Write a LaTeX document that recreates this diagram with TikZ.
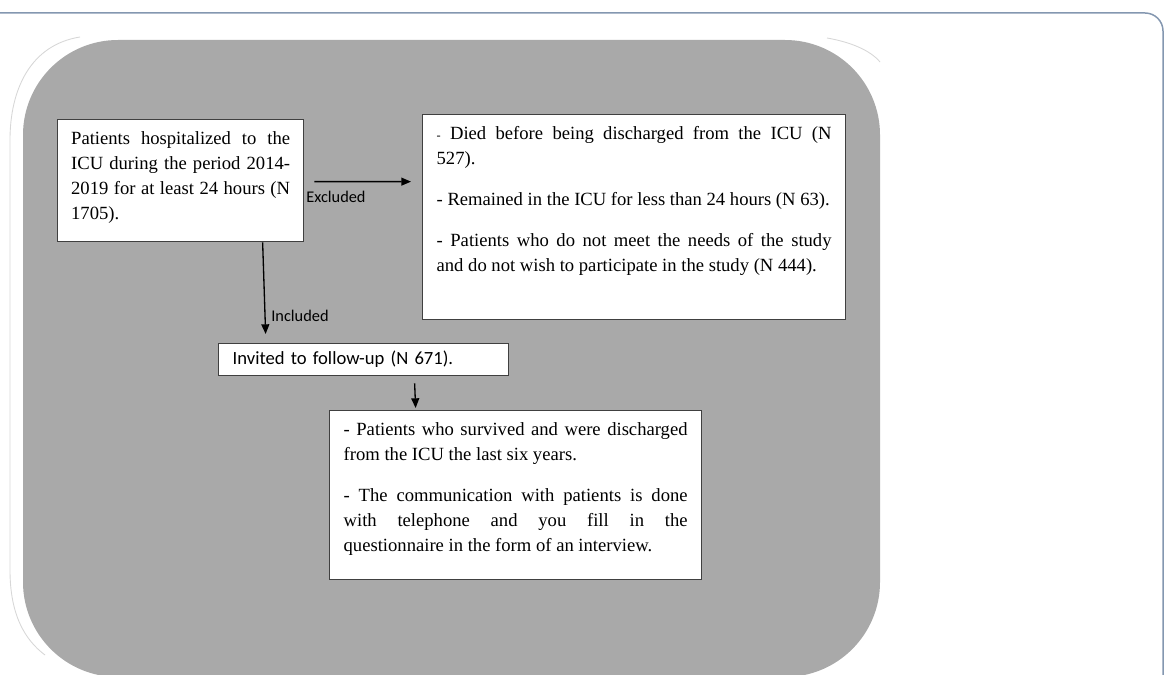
\documentclass[tikz,border=0pt]{standalone}
\usepackage{fontspec}
\setmainfont{Liberation Serif}
\newfontfamily\calfont{Carlito}
\usepackage{xcolor}
\usetikzlibrary{positioning, arrows.meta}

\definecolor{panelgray}{RGB}{169,169,169}
\definecolor{framecol}{RGB}{132,151,176}
\definecolor{boxedge}{RGB}{64,64,64}
\definecolor{faintline}{RGB}{215,215,215}

\newcommand{\boxtext}{\fontsize{10.6}{14.2}\selectfont}
\newcommand{\paragap}{\par\vspace{9pt}}

\tikzset{
  flowbox/.style={draw=boxedge, fill=white, line width=0.75pt, anchor=north west, inner ysep=0.24cm, inner xsep=0.27cm},
  flowlabel/.style={inner sep=0pt, anchor=west, font=\calfont\fontsize{9.3}{11}\selectfont},
  flowarrow/.style={-{Triangle[length=5.5pt,width=4.5pt]}, line width=0.75pt}
}

\begin{document}
\begin{tikzpicture}[x=0.02cm, y=-0.02cm]
    \useasboundingbox (0,0) rectangle (1168,675);
    % page frame
    \draw[framecol, line width=0.85pt, rounded corners=0.36cm] (0,13) -- (1163,13) -- (1163,680);
    % panel
    \draw[faintline, line width=0.5pt] (80,37) .. controls (30,45) and (10,90) .. (10,140) -- (10,570) .. controls (10,615) and (25,640) .. (45,655);
    \draw[faintline, line width=0.5pt] (827,38) .. controls (850,42) and (870,50) .. (880,62);
    \fill[panelgray, rounded corners=1.9cm] (23,40) rectangle (880,677);
    % boxes
    \node[flowbox] (hosp) at (57,119) {\parbox[c][1.96cm][t]{4.38cm}{\boxtext
        Patients hospitalized to the\linebreak
        ICU during the period 2014-\linebreak
        2019 for at least 24 hours (N\linebreak
        1705).}};
    \node[flowbox, inner xsep=0.28cm] (dropout) at (422,114) {\parbox[c][3.62cm][t]{7.9cm}{\boxtext
        {\scriptsize -} Died before being discharged from the ICU (N\linebreak
        527).\paragap
        - Remained in the ICU for less than 24 hours (N 63).\paragap
        - Patients who do not meet the needs of the study\linebreak
        and do not wish to participate in the study (N 444).}};
    \node[flowbox, inner xsep=0.28cm, inner ysep=0pt, minimum height=0.64cm, text width=5.24cm, align=left,
        font=\calfont\fontsize{10.6}{12.7}\selectfont] (invited) at (218,343) {Invited to follow-up (N 671).};
    \node[flowbox, inner xsep=0.28cm] (followup) at (329,410) {\parbox[c][2.9cm][t]{6.88cm}{\boxtext
        - Patients who survived and were discharged\linebreak
        from the ICU the last six years.\paragap
        - The communication with patients is done\linebreak
        with telephone and you fill in the\linebreak
        questionnaire in the form of an interview.}};
    % labels
    \node[flowlabel] (exclabel) at (306,197) {Excluded};
    \node[flowlabel] (inclabel) at (271,316) {Included};
    % connectors
    \draw[flowarrow] ([shift={(10,1)}]hosp.east) -- ([shift={(-11,-35.5)}]dropout.west);
    \draw[flowarrow] ([shift={(82,0)}]hosp.south) -- ([shift={(-98,-9)}]invited.north);
    \draw[flowarrow] ([shift={(51,7)}]invited.south) -- ([shift={(-100,-2)}]followup.north);
\end{tikzpicture}
\end{document}
